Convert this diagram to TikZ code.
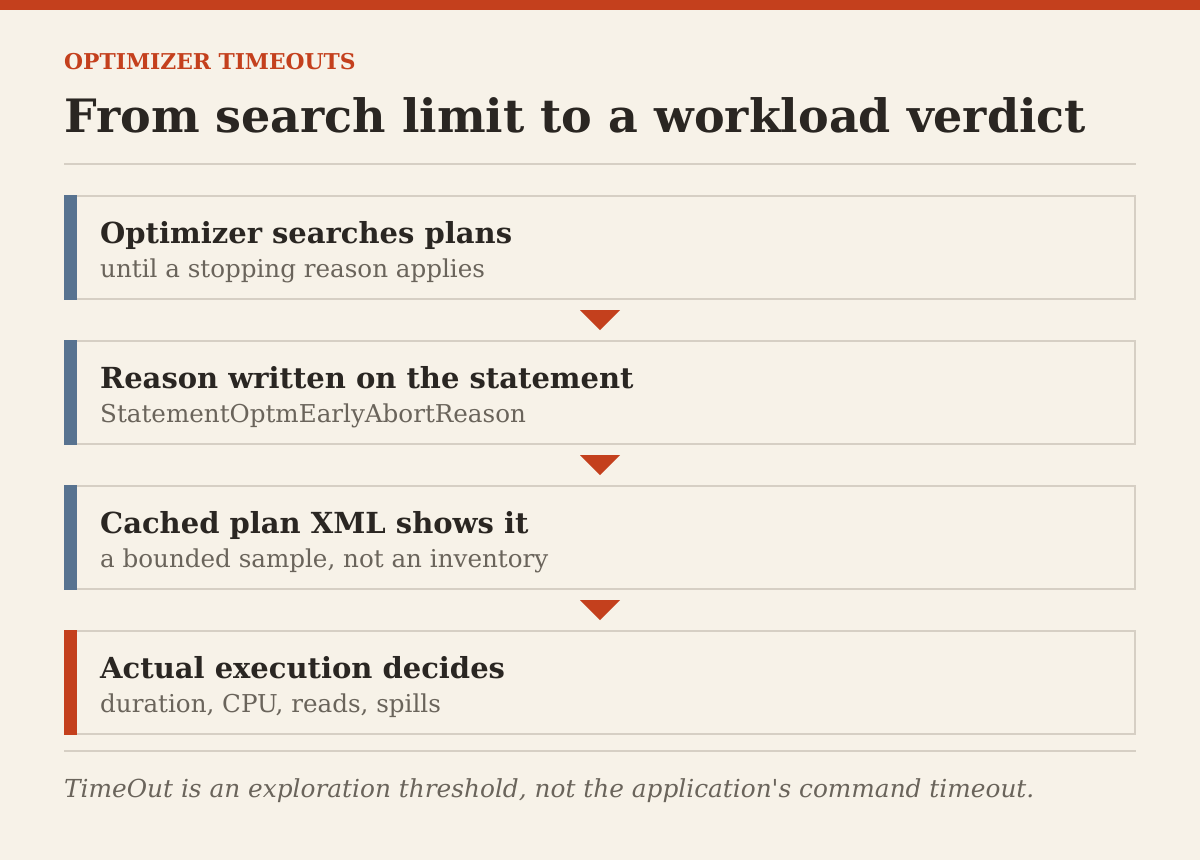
\documentclass[tikz,border=0pt]{standalone}
\usepackage{fontspec}
\setmainfont{DejaVu Serif}[Ligatures=TeXOff]
\usetikzlibrary{calc}
\definecolor{paper}{HTML}{F7F2E8}
\definecolor{rust}{HTML}{C4401D}
\definecolor{steel}{HTML}{587390}
\definecolor{rulegray}{HTML}{D6CFC4}
\definecolor{ink}{HTML}{2A2622}
\definecolor{muted}{HTML}{6A645B}

\begin{document}
\begin{tikzpicture}[x=1pt,y=-1pt,
    stepbox/.style={draw=rulegray,line width=2pt,minimum width=1070pt,minimum height=103pt,inner sep=0pt,outer sep=0pt,anchor=north west},
    head/.style={anchor=base west,inner sep=0pt,text=ink,font=\fontsize{29}{34}\selectfont\bfseries},
    sub/.style={anchor=base west,inner sep=0pt,text=muted,font=\fontsize{24.6}{28}\selectfont},
    marker/.style={fill=rust}]
    % page and top band
    \fill[paper] (0,0) rectangle (1200,860);
    \useasboundingbox (0,0) rectangle (1200,860);
    \fill[rust] (0,0) rectangle (1200,10);

    % heading
    \node[anchor=base west,inner sep=0pt,text=rust,font=\fontsize{21.8}{24}\selectfont\bfseries] (kicker) at (64,69) {OPTIMIZER TIMEOUTS};
    \node[anchor=base west,inner sep=0pt,text=ink,font=\fontsize{46}{52}\selectfont\bfseries] (title) at (64,132) {From search limit to a workload verdict};
    \draw[rulegray,line width=2pt] (64,164) -- (1136,164);

    % the four steps
    \node[stepbox] (s1) at (65,196) {};
    \node[stepbox] (s2) at (65,341) {};
    \node[stepbox] (s3) at (65,486) {};
    \node[stepbox] (s4) at (65,631) {};
    \fill[steel] (64,195) rectangle (77,300);
    \fill[steel] (64,340) rectangle (77,445);
    \fill[steel] (64,485) rectangle (77,590);
    \fill[rust] (64,630) rectangle (77,735);

    \node[head] (h1) at (100,243) {Optimizer searches plans};
    \node[sub] (t1) at (100,277) {until a stopping reason applies};
    \node[head] (h2) at (100,388) {Reason written on the statement};
    \node[sub] (t2) at (100,422) {StatementOptmEarlyAbortReason};
    \node[head] (h3) at (100,533) {Cached plan XML shows it};
    \node[sub] (t3) at (100,567) {a bounded sample, not an inventory};
    \node[head] (h4) at (100,678) {Actual execution decides};
    \node[sub] (t4) at (100,712) {duration, CPU, reads, spills};

    % markers between steps
    \fill[marker] ($(s1.south)+(-20,11)$) -- ++(40,0) -- ++(-20,20) -- cycle;
    \fill[marker] ($(s2.south)+(-20,11)$) -- ++(40,0) -- ++(-20,20) -- cycle;
    \fill[marker] ($(s3.south)+(-20,11)$) -- ++(40,0) -- ++(-20,20) -- cycle;

    % footnote
    \draw[rulegray,line width=2pt] (64,751) -- (1136,751);
    \node[anchor=base west,inner sep=0pt,text=muted,font=\fontsize{24.8}{30}\selectfont\itshape] (note) at (64,797) {TimeOut is an exploration threshold, not the application's command timeout.};
\end{tikzpicture}
\end{document}
